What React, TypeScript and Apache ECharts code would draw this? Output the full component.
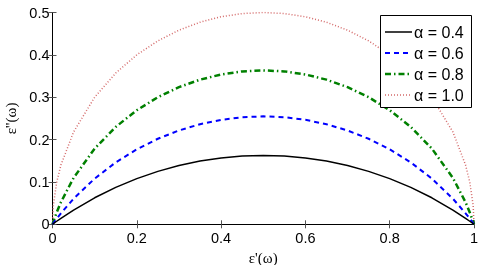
import React, { useEffect, useRef } from "react";
import * as echarts from "echarts";

const xValues = [0, 0.002, 0.01, 0.02, 0.05, 0.1, 0.15, 0.2, 0.25, 0.3, 0.35, 0.4, 0.45, 0.5, 0.55, 0.6, 0.65, 0.7, 0.75, 0.8, 0.85, 0.9, 0.95, 0.98, 0.99, 0.998, 1];
const alpha04 = [0, 0.0015, 0.0072, 0.0141, 0.0337, 0.0626, 0.0872, 0.1079, 0.125, 0.1387, 0.1492, 0.1566, 0.1611, 0.1625, 0.1611, 0.1566, 0.1492, 0.1387, 0.125, 0.1079, 0.0872, 0.0626, 0.0337, 0.0141, 0.0072, 0.0015, 0];
const alpha06 = [0, 0.0027, 0.0134, 0.026, 0.0604, 0.1079, 0.1461, 0.1771, 0.202, 0.2215, 0.2363, 0.2466, 0.2528, 0.2548, 0.2528, 0.2466, 0.2363, 0.2215, 0.202, 0.1771, 0.1461, 0.1079, 0.0604, 0.026, 0.0134, 0.0027, 0];
const alpha08 = [0, 0.0061, 0.0281, 0.0521, 0.1094, 0.1788, 0.2299, 0.2693, 0.3001, 0.3238, 0.3415, 0.3537, 0.361, 0.3633, 0.361, 0.3537, 0.3415, 0.3238, 0.3001, 0.2693, 0.2299, 0.1788, 0.1094, 0.0521, 0.0281, 0.0061, 0];
const alpha10 = [0, 0.0447, 0.0995, 0.14, 0.2179, 0.3, 0.3571, 0.4, 0.433, 0.4583, 0.477, 0.4899, 0.4975, 0.5, 0.4975, 0.4899, 0.477, 0.4583, 0.433, 0.4, 0.3571, 0.3, 0.2179, 0.14, 0.0995, 0.0447, 0];
const seriesNames = ["α = 0.4", "α = 0.6", "α = 0.8", "α = 1.0"];

const pair = (ys: number[]) => xValues.map((x, i) => [x, ys[i]]);

export default function App() {
  const ref = useRef<HTMLDivElement>(null);
  useEffect(() => {
    document.body.style.margin = "0";
    if (!ref.current) return;
    const chart = echarts.init(ref.current, null, { renderer: "svg" });
    const font = "Liberation Sans, Arial, sans-serif";
    const tickLabel = { fontFamily: font, fontSize: 14.5, color: "#000" };
    const styles = [
      { color: "#000000", width: 1.5, type: "solid" as any },
      { color: "#0000ff", width: 2, type: [5, 4] as any },
      { color: "#008000", width: 2.5, type: [6, 3, 1.5, 3] as any },
      { color: "#d46a6a", width: 1.5, type: [1, 2] as any },
    ];
    const data = [alpha04, alpha06, alpha08, alpha10];

    const legendLeft = 380;
    const legendTop = 15;
    const rowY0 = 32;
    const rowGap = 21;
    const legendGraphic: any[] = [
      {
        type: "rect",
        shape: { x: legendLeft + 0.5, y: legendTop + 0.5, width: 91, height: 92 },
        style: { fill: "#fff", stroke: "#000", lineWidth: 1 },
        z: 100,
      },
    ];
    seriesNames.forEach((name, i) => {
      const y = rowY0 + i * rowGap;
      legendGraphic.push({
        type: "line",
        shape: { x1: 385, y1: y, x2: 412, y2: y },
        style: { stroke: styles[i].color, lineWidth: styles[i].width, lineDash: styles[i].type === "solid" ? null : styles[i].type },
        z: 101,
      });
      legendGraphic.push({
        type: "text",
        x: 414,
        y: y,
        style: { text: name, fontFamily: font, fontSize: 16, fill: "#000", verticalAlign: "middle", align: "left" },
        z: 101,
      });
    });

    chart.setOption({
      animation: false,
      grid: { left: 52.5, right: 8, top: 12.5, bottom: 40.7, outerBoundsMode: "none" },
      graphic: legendGraphic,
      xAxis: [
        {
          type: "value", min: 0, max: 1, interval: 0.2,
          name: "ε'(ω)", nameLocation: "middle", nameGap: 22,
          nameTextStyle: { fontFamily: "Liberation Serif, serif", fontSize: 15, lineHeight: 15, color: "#000" },
          axisLine: { lineStyle: { color: "#000", width: 1 } },
          axisTick: { inside: true, length: 4, lineStyle: { color: "#555" } },
          axisLabel: { ...tickLabel, margin: 6 },
          splitLine: { show: false },
        },
        {
          type: "value", min: 0, max: 1, interval: 0.2, position: "top",
          axisLine: { lineStyle: { color: "#000", width: 1 } },
          axisTick: { inside: true, length: 4, lineStyle: { color: "#555" } },
          axisLabel: { show: false },
          splitLine: { show: false },
        },
      ],
      yAxis: [
        {
          type: "value", min: 0, max: 0.5, interval: 0.1,
          name: "ε''(ω)", nameLocation: "middle", nameGap: 34,
          nameTextStyle: { fontFamily: "Liberation Serif, serif", fontSize: 15, lineHeight: 15, color: "#000" },
          axisLine: { show: true, lineStyle: { color: "#000", width: 1 } },
          axisTick: { show: true, inside: true, length: 4, lineStyle: { color: "#555" } },
          axisLabel: { ...tickLabel, margin: 3 },
          splitLine: { show: false },
        },
        {
          type: "value", min: 0, max: 0.5, interval: 0.1, position: "right",
          axisLine: { show: true, lineStyle: { color: "#000", width: 1 } },
          axisTick: { show: true, inside: true, length: 4, lineStyle: { color: "#555" } },
          axisLabel: { show: false },
          splitLine: { show: false },
        },
      ],
      series: data.map((ys, i) => ({
        name: seriesNames[i],
        type: "line",
        xAxisIndex: 0,
        yAxisIndex: 0,
        data: pair(ys),
        symbol: "none",
        smooth: false,
        lineStyle: styles[i],
        itemStyle: { color: styles[i].color },
        z: 10 - i,
      })),
    });
    return () => chart.dispose();
  }, []);
  return <div ref={ref} style={{ width: 482, height: 265, position: "fixed", left: 0, top: 0 }} />;
}
